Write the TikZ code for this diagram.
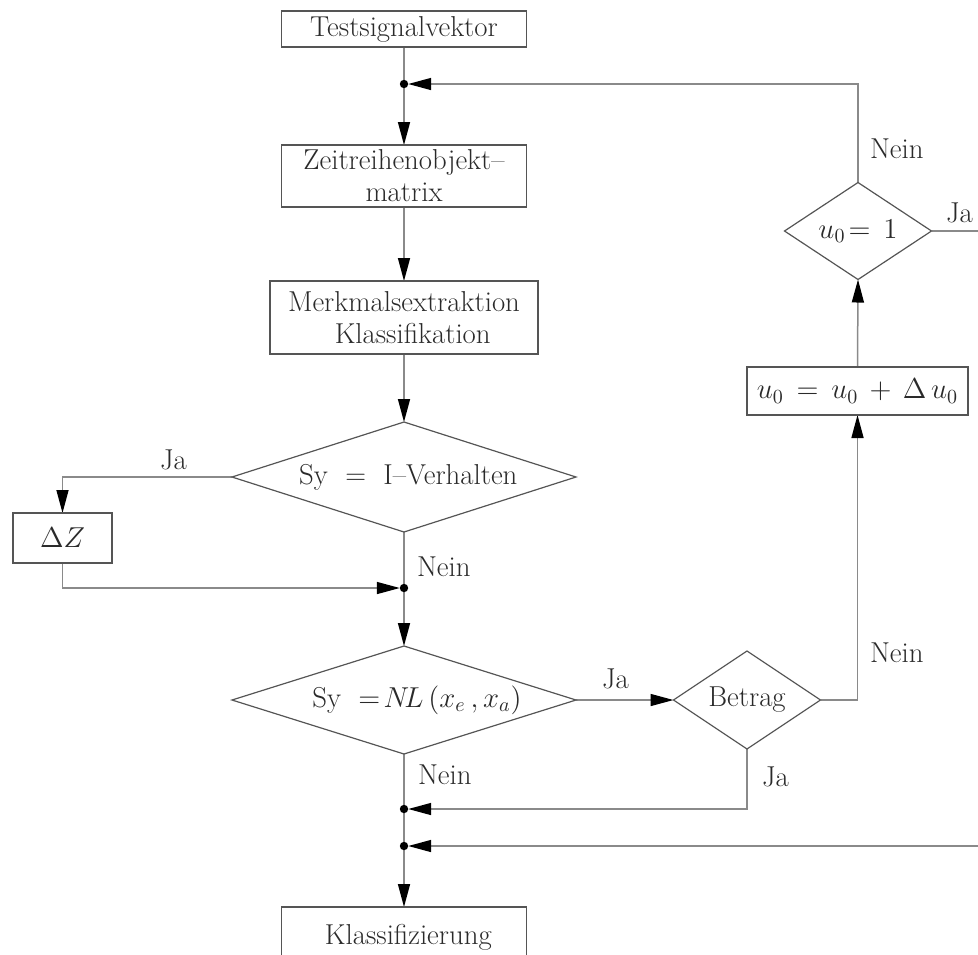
\documentclass[tikz,border=0pt]{standalone}
\usepackage{fontspec}
\setmainfont{Latin Modern Roman}
\usetikzlibrary{arrows.meta,shapes.geometric,backgrounds}
\definecolor{ln}{HTML}{8A8A8A}
\definecolor{bd}{HTML}{555555}
\definecolor{tx}{HTML}{2A2A2A}
\begin{document}
\begin{tikzpicture}[x=0.5pt,y=-0.5pt,
  every node/.style={text=tx,font=\fontsize{14.4}{16}\selectfont,outer sep=0pt},
  rbox/.style={draw=bd,line width=0.6pt,rectangle,inner sep=0pt,align=center},
  dec/.style={draw=bd,line width=0.6pt,diamond,inner sep=0pt},
  dot/.style={circle,fill=black,inner sep=0pt,minimum size=4.2pt},
  conn/.style={draw=ln,line width=0.75pt},
  arr/.style={conn,-{Triangle[length=11.5pt,width=6pt,color=black]}},
  lab/.style={anchor=west,inner sep=0pt},
]
\useasboundingbox (0,0) rectangle (978,954);
\clip (0,0) rectangle (978,954);

% boxes
\node[rbox,minimum width=122.5pt,minimum height=18pt] (ts) at (404,29) {Testsignalvektor};
\node[rbox,minimum width=122.5pt,minimum height=31pt] (zm) at (404,176) {Zeitreihenobjekt–\\matrix};
\node[rbox,minimum width=134pt,minimum height=36.5pt] (me) at (404,317.5) {Merkmalsextraktion\\\ \ Klassifikation};
\node[dec,minimum width=172pt,minimum height=55pt,aspect=3.1] (d1) at (404,477) {\ Sy\ \ =\ \ I–Verhalten};
\node[rbox,minimum width=49.5pt,minimum height=25pt] (dz) at (62.5,538) {$\Delta Z$};
\node[dec,minimum width=172pt,minimum height=54pt,aspect=3.2] (d2) at (404,700) {\ \ \ Sy\ \ $=\!N\!L\,(x_e\,,x_a)$};
\node[dec,minimum width=73.5pt,minimum height=49pt,aspect=1.5] (bt) at (747,700) {Betrag};
\node[rbox,minimum width=110.5pt,minimum height=24pt] (uu) at (857.5,391) {$u_0\,=\,u_0\,+\,\Delta\,u_0$};
\node[dec,minimum width=73.5pt,minimum height=48.5pt,aspect=1.5] (d3) at (858,231) {$u_0\!=\,1$};
\node[rbox,minimum width=122.5pt,minimum height=30pt] (kl) at (404,937) {\ Klassifizierung};

% junction dots
\node[dot] (j1) at (404,84) {};
\node[dot] (j2) at (404,588) {};
\node[dot] (j3) at (404,809) {};
\node[dot] (j4) at (404,846) {};
\coordinate (r1) at (990,231);
\coordinate (r2) at (990,846);

% labels
\node[lab] (l1) at (160,460) {Ja};
\node[lab] (l2) at (417,567) {Nein};
\node[lab] (l3) at (602,679) {Ja};
\node[lab] (l4) at (870,653) {Nein};
\node[lab] (l5) at (870,149) {Nein};
\node[lab] (l6) at (946,213) {Ja};
\node[lab] (l7) at (762,777) {Ja};
\node[lab] (l8) at (418,775) {Nein};

\begin{pgfonlayer}{background}
\draw[conn] (ts.south) -- (j1.center);
\draw[arr] (d3.north) |- (j1);
\draw[arr] (j1) -- (zm.north);
\draw[arr] (zm.south) -- (me.north);
\draw[arr] (me.south) -- (d1.north);
\draw[arr] (d1.west) -| (dz.north);
\draw[arr] (dz.south) |- (j2);
\draw[conn] (d1.south) -- (j2.center);
\draw[arr] (j2) -- (d2.north);
\draw[arr] (d2.east) -- (bt.west);
\draw[arr] (bt.east) -| (uu.south);
\draw[arr] (uu.north) -- (d3.south);
\draw[conn] (d3.east) -- (r1);
\draw[arr] (bt.south) |- (j3);
\draw[conn] (d2.south) -- (j3.center);
\draw[conn] (j3.center) -- (j4.center);
\draw[arr] (r2) -- (j4);
\draw[arr] (j4) -- (kl.north);
\end{pgfonlayer}
\end{tikzpicture}
\end{document}
